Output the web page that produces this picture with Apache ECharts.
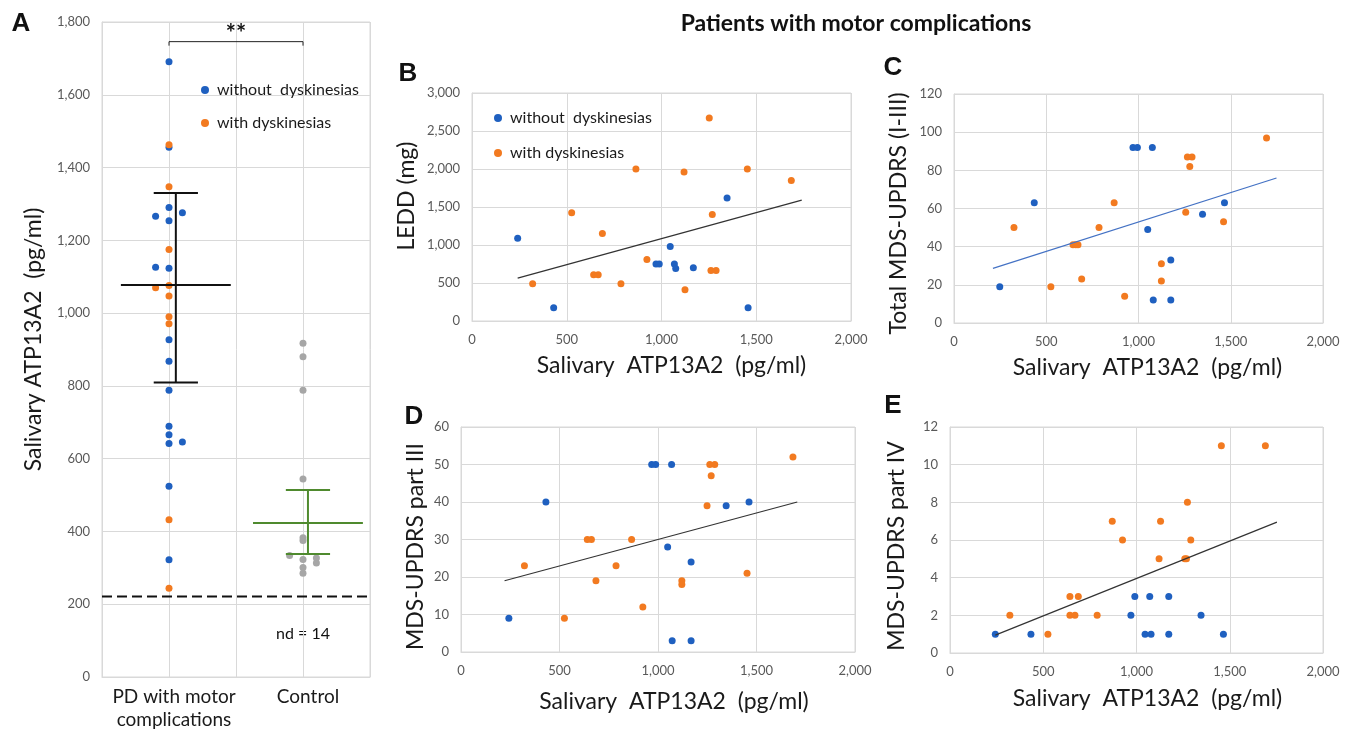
<!DOCTYPE html>
<html><head><meta charset="utf-8">
<script src="https://cdn.jsdelivr.net/npm/echarts@6/dist/echarts.min.js"></script>
<style>html,body{margin:0;padding:0;background:#fff}#c{width:1345px;height:731px}</style>
</head><body><div id="c"></div>
<script>
// ---------- Panel A (strip plot) ----------
var aCategories = ['PD with motor\ncomplications', 'Control'];
var aCatPos = [0.5, 1.5];
var aBlueX = [0.5, 0.5, 0.5, 0.6, 0.4, 0.5, 0.4, 0.5, 0.5, 0.5, 0.5, 0.5, 0.5, 0.6, 0.5, 0.5, 0.5];
var aBlueY = [1691, 1456, 1290, 1276, 1266, 1254, 1126, 1123, 927, 868, 788, 689, 666, 646, 642, 524, 322];
var aOrangeX = [0.5, 0.5, 0.5, 0.5, 0.4, 0.5, 0.5, 0.5, 0.5, 0.5];
var aOrangeY = [1463, 1347, 1175, 1076, 1070, 1047, 990, 971, 432, 244];
var aGrayX = [1.5, 1.5, 1.5, 1.5, 1.5, 1.5, 1.4, 1.6, 1.5, 1.6, 1.5, 1.5];
var aGrayY = [917, 880, 788, 544, 383, 375, 334, 327, 323, 313, 301, 285];
var aPdStats = [1077, 1330, 809];     // mean, upper, lower
var aCtrlStats = [423, 514, 338];     // mean, upper, lower
var aDetectionLimit = 221;
var aBracketY = [1735, 1746];
var aYTicks = [0, 1800, 200];

// ---------- Panel B: LEDD ----------
var bBlue = [[241,1090],[431,175],[1046,980],[971,750],[988,750],[1068,750],[1075,690],[1168,700],[1346,1620],[1457,175]];
var bOrange = [[320,490],[526,1425],[688,1150],[642,610],[666,610],[786,490],[865,2000],[923,810],[1119,1960],[1124,410],[1252,2670],[1268,1400],[1261,665],[1288,665],[1453,2000],[1685,1850]];
var bTrend = [[241,565],[1740,1590]];

// ---------- Panel C: Total MDS-UPDRS ----------
var cBlue = [[248,19],[435,63],[970,92],[994,92],[1075,92],[1050,49],[1175,33],[1080,12],[1175,12],[1347,57],[1466,63]];
var cOrange = [[325,50],[525,19],[645,41],[660,41],[672,41],[692,23],[786,50],[868,63],[925,14],[1124,31],[1124,22],[1256,58],[1265,87],[1290,87],[1278,82],[1461,53],[1694,97]];
var cTrend = [[211,28.6],[1748,76]];

// ---------- Panel D: MDS-UPDRS part III ----------
var dBlue = [[243,9],[431,40],[968,50],[988,50],[1069,50],[1049,28],[1168,24],[1072,3],[1168,3],[1346,39],[1462,40]];
var dOrange = [[322,23],[525,9],[641,30],[662,30],[685,19],[787,23],[866,30],[923,12],[1121,19],[1121,18],[1249,39],[1263,50],[1288,50],[1270,47],[1452,21],[1685,52]];
var dTrend = [[221,19],[1707,40]];

// ---------- Panel E: MDS-UPDRS part IV ----------
var eBlue = [[243,1],[434,1],[991,3],[1071,3],[1173,3],[970,2],[1046,1],[1078,1],[1173,1],[1346,2],[1466,1]];
var eOrange = [[321,2],[525,1],[643,3],[688,3],[643,2],[670,2],[789,2],[870,7],[925,6],[1121,5],[1129,7],[1259,5],[1268,5],[1273,8],[1291,6],[1455,11],[1691,11]];
var eTrend = [[243,0.95],[1753,6.95]];

var NAME_BLUE = 'without  dyskinesias';
var NAME_ORANGE = 'with dyskinesias';

// ---------- styles ----------
var BLUE = '#1f60c0', ORANGE = '#f27a20', GRAY = '#a6a6a6', GREEN = '#4f8a2e';
var GRID_C = '#d9d9d9', TICK_C = '#595959', TEXT_C = '#1a1a1a';
var FONT = 'Lato, "Open Sans", sans-serif';
var NAME_SIZE = 23;

function comma(v){ return String(v).replace(/\B(?=(\d{3})+(?!\d))/g, ','); }
function zip(xs, ys){ return ys.map(function(y,i){ return [xs[i], y]; }); }

var chart = echarts.init(document.getElementById('c'), null, {renderer:'canvas'});

var grids = [
  {left:102, top:22, width:268, height:656},
  {left:472, top:93, width:379, height:228},
  {left:954, top:94, width:369, height:229},
  {left:461, top:427, width:394, height:225},
  {left:950, top:427, width:373, height:226}
];
grids.forEach(function(g){ g.show = true; g.borderColor = GRID_C; g.borderWidth = 1; g.containLabel = false; });

function nameStyle(pad){
  return {color:TEXT_C, fontSize:NAME_SIZE, fontFamily:FONT, padding:pad || 0};
}
function valAxis(extra){
  var base = {
    type:'value',
    axisLine:{show:true, lineStyle:{color:GRID_C, width:1}},
    axisTick:{show:false},
    splitLine:{show:true, lineStyle:{color:GRID_C, width:1}},
    axisLabel:{color:TICK_C, fontSize:13, fontFamily:FONT, formatter:comma, margin:12},
    nameTextStyle:nameStyle(),
    nameLocation:'middle'
  };
  for (var k in extra) base[k] = extra[k];
  return base;
}

var X_NAME = 'Salivary  ATP13A2  (pg/ml)';
var xAxes = [
  valAxis({gridIndex:0, min:0, max:2, interval:0.5,
    axisLabel:{color:TEXT_C, fontSize:19, lineHeight:23, fontFamily:FONT, margin:8, padding:[0,0,0,10],
      formatter:function(v){ var i = aCatPos.indexOf(v); return i >= 0 ? aCategories[i] : ''; }}}),
  valAxis({gridIndex:1, min:0, max:2000, interval:500, name:X_NAME, nameGap:33, nameTextStyle:nameStyle([0,0,0,20])}),
  valAxis({gridIndex:2, min:0, max:2000, interval:500, name:X_NAME, nameGap:33, nameTextStyle:nameStyle([0,0,0,18])}),
  valAxis({gridIndex:3, min:0, max:2000, interval:500, name:X_NAME, nameGap:38, nameTextStyle:nameStyle([0,0,0,32])}),
  valAxis({gridIndex:4, min:0, max:2000, interval:500, name:X_NAME, nameGap:34, nameTextStyle:nameStyle([0,0,0,22])})
];
var yAxes = [
  valAxis({gridIndex:0, min:aYTicks[0], max:aYTicks[1], interval:aYTicks[2], name:'Salivary ATP13A2  (pg/ml)', nameGap:57, nameTextStyle:nameStyle([0,0,0,20])}),
  valAxis({gridIndex:1, min:0, max:3000, interval:500, name:'LEDD (mg)', nameGap:54, nameTextStyle:nameStyle([0,0,0,22])}),
  valAxis({gridIndex:2, min:0, max:120, interval:20, name:'Total MDS-UPDRS (I-III)', nameGap:44, nameTextStyle:nameStyle([0,10,0,0])}),
  valAxis({gridIndex:3, min:0, max:60, interval:10, name:'MDS-UPDRS part III', nameGap:34, nameTextStyle:nameStyle([0,14,0,0])}),
  valAxis({gridIndex:4, min:0, max:12, interval:2, name:'MDS-UPDRS part IV', nameGap:42, nameTextStyle:nameStyle([0,12,0,0])})
];

var series = [];
function scatter(name, idx, data, color){
  series.push({type:'scatter', name:name, xAxisIndex:idx, yAxisIndex:idx, data:data,
    symbolSize:7, itemStyle:{color:color, opacity:1}, silent:true, z:3});
}
function seg(idx, data, color, width, type, z){
  series.push({type:'line', xAxisIndex:idx, yAxisIndex:idx, data:data, symbol:'none',
    lineStyle:{color:color, width:width, type:type || 'solid'}, silent:true, z:z || 4, animation:false});
}
function errBar(cx, stats, color){
  var m = stats[0], up = stats[1], lo = stats[2];
  seg(0, [[cx - 0.41, m], [cx + 0.41, m]], color, 2);
  seg(0, [[cx - 0.165, up], [cx + 0.165, up]], color, 2);
  seg(0, [[cx - 0.165, lo], [cx + 0.165, lo]], color, 2);
  seg(0, [[cx, up], [cx, lo]], color, 2);
}

// Panel A
scatter(NAME_BLUE, 0, zip(aBlueX, aBlueY), BLUE);
scatter(NAME_ORANGE, 0, zip(aOrangeX, aOrangeY), ORANGE);
scatter('Control', 0, zip(aGrayX, aGrayY), GRAY);
errBar(0.551, aPdStats, '#111');
errBar(1.537, aCtrlStats, GREEN);
seg(0, [[0, aDetectionLimit], [2, aDetectionLimit]], '#111', 2, [10, 5]);
seg(0, [[aCatPos[0], aBracketY[0]], [aCatPos[0], aBracketY[1]], [aCatPos[1], aBracketY[1]], [aCatPos[1], aBracketY[0]]], '#222', 1);

// Panels B-E
[[bBlue,bOrange,bTrend,'#333'],[cBlue,cOrange,cTrend,'#4472c4'],[dBlue,dOrange,dTrend,'#333'],[eBlue,eOrange,eTrend,'#333']].forEach(function(p, i){
  scatter(NAME_BLUE, i + 1, p[0], BLUE);
  scatter(NAME_ORANGE, i + 1, p[1], ORANGE);
  seg(i + 1, p[2], p[3], 1.2, 'solid', 5);
});

function txt(x, y, text, font, color, align){
  return {type:'text', x:x, y:y, silent:true,
    style:{text:text, font:font, fill:color || TEXT_C, textAlign:align || 'center', textVerticalAlign:'middle', align:align || 'center', verticalAlign:'middle'}};
}
var LETTER = 'bold 26px "Liberation Sans", Arial, sans-serif';

var legendBase = function(left, top, gap){
  return {data:[NAME_BLUE, NAME_ORANGE], orient:'vertical', left:left, top:top, icon:'circle',
    itemWidth:8, itemHeight:8, itemGap:gap, selectedMode:false,
    textStyle:{fontSize:16, fontFamily:FONT, color:TEXT_C, lineHeight:18, padding:[0,0,0,3]}};
};

chart.setOption({
  animation:false,
  backgroundColor:'#ffffff',
  grid:grids,
  xAxis:xAxes,
  yAxis:yAxes,
  series:series,
  legend:[legendBase(196, 76, 15), legendBase(489, 104, 17)],
  graphic:[
    txt(856, 24, 'Patients with motor complications', 'bold 23px ' + FONT, '#111'),
    txt(21, 24, 'A', LETTER, '#111'),
    txt(408, 74, 'B', LETTER, '#111'),
    txt(893, 68, 'C', LETTER, '#111'),
    txt(414, 417, 'D', LETTER, '#111'),
    txt(893, 406, 'E', LETTER, '#111'),
    txt(236, 34, '**', 'bold 24px ' + FONT, '#111'),
    txt(303, 634, 'nd = 14', '16px ' + FONT, '#111')
  ]
});
</script>
</body></html>
